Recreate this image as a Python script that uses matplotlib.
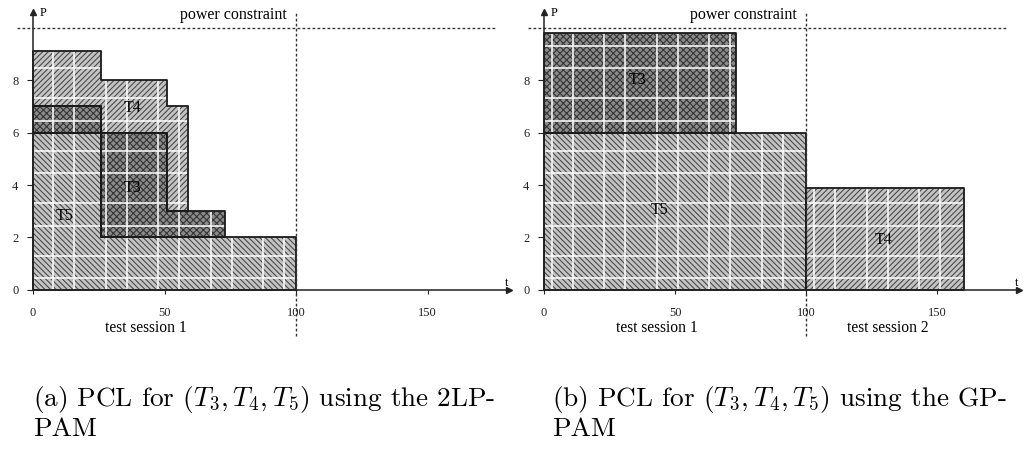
import numpy as np
import matplotlib
matplotlib.use("Agg")
import matplotlib.pyplot as plt
from matplotlib.collections import LineCollection

# ---------------- data ----------------
power_limit = 10
session_boundary = 100
x_ticks = [0, 50, 100, 150]
y_ticks = [0, 2, 4, 6, 8]

# panel (a): 2LP-PAM -- step profiles (time breakpoints, lower power, upper power)
a_T5_t = [0, 26, 100]
a_T5_lo = [0, 0, 0]
a_T5_hi = [6, 2, 2]
a_T3_t = [0, 26, 51, 73]
a_T3_lo = [6, 2, 2, 2]
a_T3_hi = [7, 6, 3, 3]
a_T4_t = [0, 26, 51, 59]
a_T4_lo = [7, 6, 3, 3]
a_T4_hi = [9.1, 8, 7, 7]

# panel (b): GP-PAM
b_T3_t = [0, 73]
b_T3_lo = [6, 6]
b_T3_hi = [9.8, 9.8]
b_T5_t = [0, 100]
b_T5_lo = [0, 0]
b_T5_hi = [6, 6]
b_T4_t = [100, 160]
b_T4_lo = [0, 0]
b_T4_hi = [3.9, 3.9]

captions = ["(a) PCL for $(T_3, T_4, T_5)$ using the 2LP-\nPAM",
            "(b) PCL for $(T_3, T_4, T_5)$ using the GP-\nPAM"]
sessions_a = ["test session 1"]
sessions_b = ["test session 1", "test session 2"]

# ---------------- style ----------------
plt.rcParams["mathtext.fontset"] = "cm"
plt.rcParams["hatch.linewidth"] = 0.8
SERIF = "Liberation Serif"
styles = {
    "T5": dict(face="#c4c4c4", hc="#4a4a4a", hatch="\\" * 6),
    "T4": dict(face="#c4c4c4", hc="#4a4a4a", hatch="/" * 6),
    "T3": dict(face="#8a8a8a", hc="#363636", hatch="x" * 5),
}

fig = plt.figure(figsize=(10.32, 4.51), dpi=100)
axA = fig.add_axes([0.0014, 0.2115, 0.50204, 0.7857])
axB = fig.add_axes([0.49667, 0.2115, 0.50071, 0.7857])


def draw_task(ax, name, t, lo, hi, grid_off):
    st = styles[name]
    fill = ax.fill_between(t, lo, hi, step="post", facecolor=st["face"],
                           edgecolor=st["hc"], hatch=st["hatch"],
                           linewidth=0, zorder=1)
    # white tile seams of the original rendering
    xs = np.concatenate([np.arange(grid_off[0], 200, 20),
                         np.arange(grid_off[1], 200, 20)])
    ys = np.concatenate([np.arange(0.45, 11, 2.0), np.arange(1.3, 11, 2.0)])
    segs = [[(x, -1), (x, 11)] for x in xs] + [[(-1, y), (200, y)] for y in ys]
    lc = LineCollection(segs, colors="white", linewidths=1.1, zorder=1.5)
    ax.add_collection(lc)
    lc.set_clip_path(fill.get_paths()[0], ax.transData)
    ax.fill_between(t, lo, hi, step="post", facecolor="none",
                    edgecolor="#1a1a1a", linewidth=1.3, zorder=2)


def setup_axes(ax):
    ax.set_xlim(-12, 185)
    ax.set_ylim(-2.5, 11)
    ax.patch.set_alpha(0)
    for s in ("top", "right"):
        ax.spines[s].set_visible(False)
    ax.spines["left"].set_position(("data", 0))
    ax.spines["bottom"].set_position(("data", 0))
    ax.spines["left"].set_bounds(0, 10.6)
    ax.spines["bottom"].set_bounds(0, 181)
    for s in ("left", "bottom"):
        ax.spines[s].set_linewidth(1.1)
        ax.spines[s].set_color("#222222")
        ax.spines[s].set_zorder(3)
    ax.plot([181], [0], marker=">", ms=4, color="#222222", clip_on=False, zorder=4)
    ax.plot([0], [10.6], marker="^", ms=4, color="#222222", clip_on=False, zorder=4)
    ax.set_xticks(x_ticks)
    ax.set_yticks(y_ticks)
    ax.tick_params(axis="x", direction="out", length=3, width=0.8, pad=9,
                   labelsize=9, colors="#222222")
    ax.tick_params(axis="y", direction="out", length=4.5, width=0.8, pad=6,
                   labelsize=9, colors="#222222")
    for lab in ax.get_xticklabels() + ax.get_yticklabels():
        lab.set_fontfamily(SERIF)
    # power constraint & session boundary
    ax.plot([-6, 176], [power_limit, power_limit], color="#333333", lw=1.0,
            ls=(0, (2, 1.6)), zorder=3)
    ax.plot([session_boundary, session_boundary], [-1.75, 10.6], color="#333333",
            lw=1.0, ls=(0, (2, 1.6)), zorder=3)
    ax.text(76, 10.48, "power constraint", ha="center", va="center",
            fontsize=11.5, family=SERIF)
    ax.text(2.5, 10.55, "P", ha="left", va="center", fontsize=9, family=SERIF)
    ax.text(180, 0.05, "t", ha="center", va="bottom", fontsize=9, family=SERIF)


# panel (a)
setup_axes(axA)
draw_task(axA, "T5", a_T5_t, a_T5_lo, a_T5_hi, (7.6, 15.6))
draw_task(axA, "T3", a_T3_t, a_T3_lo, a_T3_hi, (7.6, 15.6))
draw_task(axA, "T4", a_T4_t, a_T4_lo, a_T4_hi, (7.6, 15.6))
axA.text(38, 6.95, "T4", ha="center", va="center", fontsize=11.5, family=SERIF)
axA.text(38, 3.9, "T3", ha="center", va="center", fontsize=11.5, family=SERIF)
axA.text(12, 2.8, "T5", ha="center", va="center", fontsize=11.5, family=SERIF)
axA.text(43, -1.45, sessions_a[0], ha="center", va="center", fontsize=11.2, family=SERIF)

# panel (b)
setup_axes(axB)
draw_task(axB, "T5", b_T5_t, b_T5_lo, b_T5_hi, (3, 11))
draw_task(axB, "T3", b_T3_t, b_T3_lo, b_T3_hi, (3, 11))
draw_task(axB, "T4", b_T4_t, b_T4_lo, b_T4_hi, (3, 11))
axB.text(35.5, 8.0, "T3", ha="center", va="center", fontsize=11.5, family=SERIF)
axB.text(44, 3.05, "T5", ha="center", va="center", fontsize=11.5, family=SERIF)
axB.text(129.6, 1.9, "T4", ha="center", va="center", fontsize=11.5, family=SERIF)
axB.text(43, -1.45, sessions_b[0], ha="center", va="center", fontsize=11.2, family=SERIF)
axB.text(131, -1.45, sessions_b[1], ha="center", va="center", fontsize=11.2, family=SERIF)

# captions
fig.text(33 / 1032, 1 - 384 / 451, captions[0], ha="left", va="top",
         fontsize=19.6, family="cmr10", linespacing=1.1)
fig.text(552 / 1032, 1 - 384 / 451, captions[1], ha="left", va="top",
         fontsize=19.6, family="cmr10", linespacing=1.1)

fig.savefig("out.png", dpi=100)
